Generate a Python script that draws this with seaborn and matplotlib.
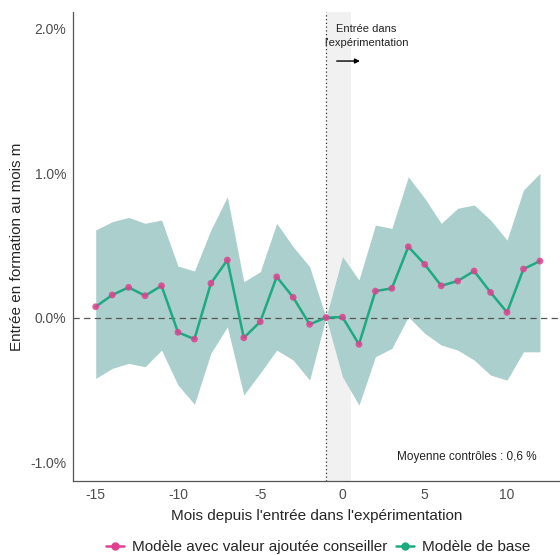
import matplotlib
matplotlib.use("Agg")
from matplotlib import pyplot as plt
from matplotlib.lines import Line2D
from matplotlib.ticker import FuncFormatter
import pandas as pd
import seaborn as sns

# valeurs (en %)
mois = list(range(-15, 13))
effet = [0.075, 0.156, 0.209, 0.151, 0.220, -0.102, -0.149, 0.237, 0.398, -0.140,
         -0.029, 0.282, 0.140, -0.047, 0.0, 0.003, -0.185, 0.183, 0.202, 0.490,
         0.368, 0.220, 0.253, 0.322, 0.174, 0.036, 0.336, 0.391]
haut = [0.606, 0.663, 0.693, 0.652, 0.675, 0.356, 0.322, 0.606, 0.836, 0.248,
        0.317, 0.652, 0.490, 0.352, 0.0, 0.421, 0.260, 0.640, 0.617, 0.974,
        0.825, 0.652, 0.756, 0.779, 0.675, 0.536, 0.882, 0.998]
bas = [-0.421, -0.352, -0.317, -0.340, -0.225, -0.467, -0.600, -0.246, -0.064, -0.536,
       -0.384, -0.225, -0.294, -0.433, 0.0, -0.410, -0.606, -0.271, -0.213, 0.005,
       -0.109, -0.190, -0.225, -0.294, -0.398, -0.433, -0.237, -0.237]
modeles = ["Modèle avec valeur ajoutée conseiller", "Modèle de base"]
x_ticks = [-15, -10, -5, 0, 5, 10]
y_ticks = [-1.0, 0.0, 1.0, 2.0]

rose = "#E0408F"
vert = "#1DAA80"

sns.set_style("white")
plt.rcParams["font.family"] = ["Liberation Sans", "DejaVu Sans"]
plt.rcParams["axes.unicode_minus"] = False

df = pd.DataFrame({"mois": mois, "effet": effet, "haut": haut, "bas": bas})

fig = plt.figure(figsize=(5.6, 5.55), dpi=100)
ax = fig.add_axes([0.1304, 0.1333, 0.8696, 0.845])

# bande grise autour de l'entrée
ax.axvspan(-1, 0.5, color="#f1f1f1", lw=0, zorder=0)
# intervalle de confiance
ax.fill_between(df["mois"], df["bas"], df["haut"], color="#aacfcc", lw=0, zorder=1)
ax.axhline(0, color="#555555", ls=(0, (5, 3.5)), lw=0.9, zorder=2)
ax.axvline(-1, color="#333333", ls=(0, (1, 2)), lw=0.9, zorder=2)

sns.lineplot(data=df, x="mois", y="effet", color=vert, lw=1.8, ax=ax, zorder=3)
sns.scatterplot(data=df, x="mois", y="effet", color=rose, s=24, edgecolor="none",
                alpha=0.85, ax=ax, zorder=4)

ax.text(1.43, 1.95, "Entrée dans\nl'expérimentation", ha="center", va="center",
        fontsize=8, linespacing=1.45, color="#222222")
ax.annotate("", xy=(1.23, 1.775), xytext=(-0.52, 1.775),
            arrowprops=dict(arrowstyle="-|>", color="black", lw=1, mutation_scale=7))
ax.text(7.55, -0.963, "Moyenne contrôles : 0,6 %", ha="center", va="center",
        fontsize=8.5, color="#222222")

ax.set_xlim(-16.38, 13.22)
ax.set_ylim(-1.131, 2.114)
ax.set_xticks(x_ticks)
ax.set_yticks(y_ticks)
ax.yaxis.set_major_formatter(FuncFormatter(lambda v, p: f"{v:.1f}%"))
ax.tick_params(length=0, labelsize=10, labelcolor="#4d4d4d", pad=5)
ax.set_xlabel("Mois depuis l'entrée dans l'expérimentation", fontsize=11, labelpad=5)
ax.set_ylabel("Entrée en formation au mois m", fontsize=11)

sns.despine(ax=ax)
for s in ["left", "bottom"]:
    ax.spines[s].set_color("#555555")
    ax.spines[s].set_linewidth(0.9)

handles = [Line2D([], [], color=rose, marker="o", ms=5, lw=1.8),
           Line2D([], [], color=vert, marker="o", ms=5, lw=1.8)]
fig.legend(handles, modeles, loc="center", bbox_to_anchor=(0.568, 0.014), ncol=2,
           frameon=False, handlelength=1.2, columnspacing=0.6, handletextpad=0.5,
           fontsize=11)

fig.savefig("out.png", dpi=100)
